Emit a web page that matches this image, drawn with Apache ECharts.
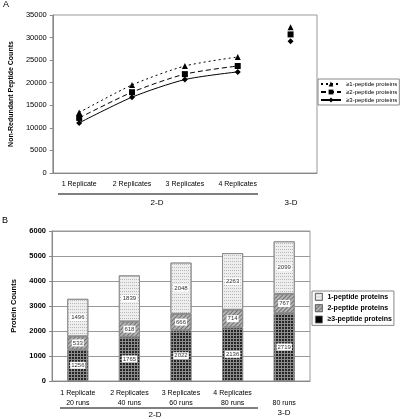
<!DOCTYPE html>
<html><head><meta charset="utf-8">
<script src="https://cdn.jsdelivr.net/npm/echarts@6/dist/echarts.min.js"></script>
<style>html,body{margin:0;padding:0;background:#fff}#c{width:400px;height:419px}</style>
</head><body><div id="c"></div>
<script>
// ---- Data ----
var topCategories = ['1 Replicate', '2 Replicates', '3 Replicates', '4 Replicates', ''];
var pep1 = [13400, 19500, 23700, 25700, 32300];
var pep2 = [12200, 17900, 21900, 23700, 30700];
var pep3 = [11100, 16800, 20700, 22400, 29200];
var topSeriesNames = ['\u22651-peptide proteins', '\u22652-peptide proteins', '\u22653-peptide proteins'];

var bottomCategories = ['1 Replicate\n20 runs', '2 Replicates\n40 runs', '3 Replicates\n60 runs', '4 Replicates\n80 runs', '\n80 runs'];
var onePep = [1496, 1839, 2048, 2263, 2099];
var twoPep = [533, 618, 666, 714, 767];
var threePep = [1256, 1765, 2022, 2136, 2719];
var bottomSeriesNames = ['1-peptide proteins', '2-peptide proteins', '\u22653-peptide proteins'];

function lineOnly(arr) { return arr.map(function (v, i) { return i < 4 ? v : '-'; }); }
function pointOnly(arr) { return arr.map(function (v, i) { return i === 4 ? v : '-'; }); }

var chart = echarts.init(document.getElementById('c'), null, { renderer: 'canvas' });
var FF = 'Liberation Sans, Arial, sans-serif';
var lineTypes = [[2, 3], [5, 3], 'solid'];
var symbols = ['triangle', 'rect', 'diamond'];
var topData = [pep1, pep2, pep3];

var series = [];
topData.forEach(function (d, i) {
  series.push({
    name: topSeriesNames[i], type: 'line', xAxisIndex: 0, yAxisIndex: 0,
    data: lineOnly(d), smooth: 0.25, symbol: symbols[i], symbolSize: 6,
    lineStyle: { color: '#000', width: 1, type: lineTypes[i] },
    itemStyle: { color: '#000', opacity: 1 }, silent: true
  });
});
topData.forEach(function (d, i) {
  series.push({
    name: topSeriesNames[i], type: 'scatter', xAxisIndex: 0, yAxisIndex: 0,
    data: pointOnly(d), symbol: symbols[i], symbolSize: 6,
    itemStyle: { color: '#000', opacity: 1 }, silent: true
  });
});

var barStyles = [
  { color: '#eeeeee', decal: { symbol: 'rect', color: '#b8b8b8', dashArrayX: [1, 1], dashArrayY: [1, 2], symbolSize: 1 } },
  { color: '#b4b4b4', decal: { symbol: 'rect', color: '#707070', dashArrayX: [[1, 0]], dashArrayY: [1, 2], rotation: -Math.PI / 4, symbolSize: 1 } },
  { color: '#8c8c8c', decal: { symbol: 'rect', color: '#262626', dashArrayX: [2, 1], dashArrayY: [2, 1], symbolSize: 1 } }
];
var barData = [threePep, twoPep, onePep];
var barNameIdx = [2, 1, 0];
barData.forEach(function (d, k) {
  var si = barNameIdx[k];
  series.push({
    name: bottomSeriesNames[si], type: 'bar', stack: 'b', xAxisIndex: 1, yAxisIndex: 1,
    data: d, barWidth: 21,
    itemStyle: { color: barStyles[si].color, decal: barStyles[si].decal, borderColor: '#888', borderWidth: 0.8 },
    label: { show: true, position: 'inside', fontSize: 6, fontFamily: FF, color: '#333',
      backgroundColor: '#fff', padding: [1, 1, 0, 1] },
    silent: true
  });
});

function plain(v) { return String(v); }

var option = {
  animation: false,
  backgroundColor: '#fff',
  textStyle: { fontFamily: FF },
  grid: [
    { left: 52, top: 15, width: 265, height: 158, show: true, borderColor: '#999', borderWidth: 1, containLabel: false },
    { left: 52, top: 231, width: 258, height: 150, show: true, borderColor: '#999', borderWidth: 1, containLabel: false }
  ],
  legend: [
    { data: topSeriesNames.map(function (n) { return { name: n }; }), orient: 'vertical', left: 318, top: 79,
      itemWidth: 20, itemHeight: 6, itemGap: 2, padding: [2, 2, 2, 2], borderColor: '#888', borderWidth: 1,
      textStyle: { fontSize: 6, fontFamily: FF, color: '#000' }, selectedMode: false, backgroundColor: '#fff' },
    { data: bottomSeriesNames, orient: 'vertical', left: 312, top: 291,
      itemWidth: 7, itemHeight: 7, itemGap: 3.5, padding: [2, 2, 2, 3], borderColor: '#888', borderWidth: 1,
      textStyle: { fontSize: 7, fontFamily: FF, fontWeight: 'bold', color: '#000' }, selectedMode: false,
      icon: 'rect', itemStyle: { borderColor: '#666', borderWidth: 0.8 } }
  ],
  xAxis: [
    { type: 'category', gridIndex: 0, data: topCategories, boundaryGap: true,
      axisLine: { lineStyle: { color: '#888' } }, axisTick: { length: 3, lineStyle: { color: '#888' } },
      axisLabel: { fontSize: 7, color: '#000', fontFamily: FF, margin: 8, interval: 0 } },
    { type: 'category', gridIndex: 1, data: bottomCategories, boundaryGap: true,
      axisLine: { lineStyle: { color: '#888' } }, axisTick: { length: 3, lineStyle: { color: '#888' } },
      axisLabel: { fontSize: 7, color: '#000', fontFamily: FF, margin: 7, interval: 0, lineHeight: 10 } }
  ],
  yAxis: [
    { type: 'value', gridIndex: 0, min: 0, max: 35000, interval: 5000,
      name: 'Non-Redundant Peptide Counts', nameLocation: 'middle', nameGap: 32,
      nameTextStyle: { fontSize: 7, fontWeight: 'bold', color: '#000', fontFamily: FF },
      axisLine: { show: true, lineStyle: { color: '#888' } }, axisTick: { show: true, length: 3, lineStyle: { color: '#888' } },
      splitLine: { show: false },
      axisLabel: { fontSize: 7.5, color: '#000', fontFamily: FF, margin: 6, formatter: plain } },
    { type: 'value', gridIndex: 1, min: 0, max: 6000, interval: 1000,
      name: 'Protein Counts', nameLocation: 'middle', nameGap: 28,
      nameTextStyle: { fontSize: 7.5, fontWeight: 'bold', color: '#000', fontFamily: FF },
      axisLine: { show: true, lineStyle: { color: '#888' } }, axisTick: { show: true, length: 3, lineStyle: { color: '#888' } },
      splitLine: { show: true, lineStyle: { color: '#999', width: 1 } },
      axisLabel: { fontSize: 7.5, fontWeight: 'bold', color: '#000', fontFamily: FF, margin: 6, formatter: plain } }
  ],
  graphic: [
    { type: 'text', left: 3, top: 0, style: { text: 'A', fontSize: 9, fontFamily: FF, fill: '#000' } },
    { type: 'text', left: 2, top: 216, style: { text: 'B', fontSize: 9, fontFamily: FF, fill: '#000' } },
    { type: 'line', shape: { x1: 58, y1: 194, x2: 258, y2: 194 }, style: { stroke: '#000', lineWidth: 1 } },
    { type: 'text', x: 157, y: 203, style: { text: '2-D', fontSize: 8, fontFamily: FF, fill: '#000', align: 'center', verticalAlign: 'middle' } },
    { type: 'text', x: 291, y: 203, style: { text: '3-D', fontSize: 8, fontFamily: FF, fill: '#000', align: 'center', verticalAlign: 'middle' } },
    { type: 'line', shape: { x1: 60, y1: 408, x2: 258, y2: 408 }, style: { stroke: '#000', lineWidth: 1 } },
    { type: 'text', x: 155, y: 415, style: { text: '2-D', fontSize: 8, fontFamily: FF, fill: '#000', align: 'center', verticalAlign: 'middle' } },
    { type: 'text', x: 284, y: 413, style: { text: '3-D', fontSize: 8, fontFamily: FF, fill: '#000', align: 'center', verticalAlign: 'middle' } }
  ],
  series: series
};
chart.setOption(option);
</script>
</body></html>
